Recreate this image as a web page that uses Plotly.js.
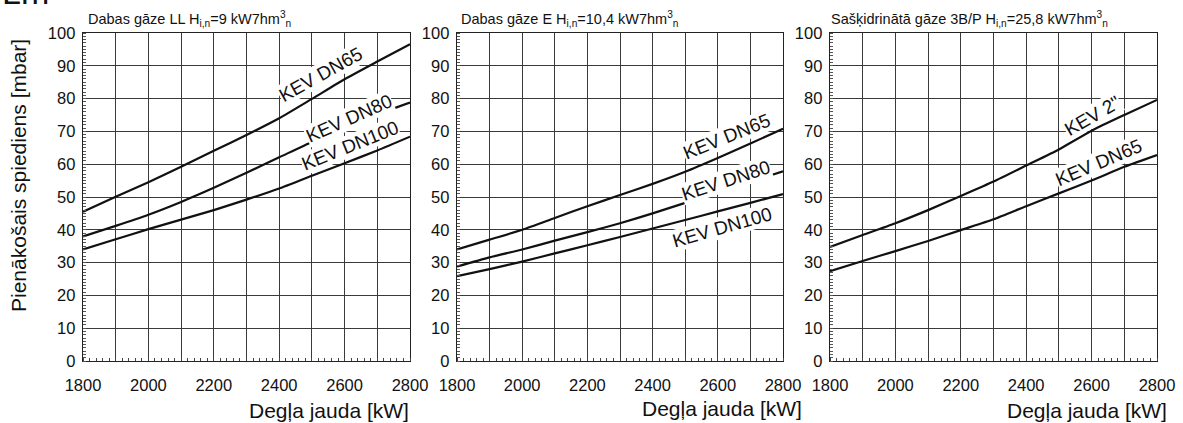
<!DOCTYPE html>
<html>
<head>
<meta charset="utf-8">
<script src="https://cdn.plot.ly/plotly-3.0.1.min.js"></script>
<style>html,body{margin:0;padding:0;background:#fff;}#chart{width:1183px;height:423px;}</style>
</head>
<body>
<div id="chart"></div>
<script>
// ---- data ----
const burnerPower = [1800, 1900, 2000, 2100, 2200, 2300, 2400, 2500, 2600, 2700, 2800];

// Panel 1: Dabas gāze LL
const llDN65  = [45.5, 50.1, 54.5, 59.2, 64.1, 68.9, 74.0, 79.9, 85.9, 91.3, 96.6];
const llDN80  = [38.0, 41.2, 44.6, 48.5, 52.8, 57.4, 62.1, 66.8, 71.1, 75.2, 78.8];
const llDN100 = [34.0, 37.1, 40.2, 43.1, 46.0, 49.2, 52.6, 56.5, 60.3, 64.2, 68.4];

// Panel 2: Dabas gāze E
const eDN65  = [34.0, 37.0, 40.0, 43.6, 47.2, 50.6, 54.0, 57.7, 61.9, 66.3, 70.8];
const eDN80  = [28.8, 31.6, 34.0, 36.7, 39.3, 42.0, 45.0, 48.2, 51.4, 54.6, 57.8];
const eDN100 = [25.9, 28.0, 30.3, 32.8, 35.3, 37.8, 40.4, 43.0, 45.6, 48.2, 50.9];

// Panel 3: Sašķidrinātā gāze 3B/P
const lpgKEV2   = [34.8, 38.4, 42.0, 46.0, 50.3, 54.7, 59.6, 64.5, 70.2, 75.0, 79.6];
const lpgDN65   = [27.4, 30.5, 33.5, 36.6, 39.9, 43.2, 47.2, 51.1, 55.0, 59.2, 62.8];

const xTickVals = [1800, 1900, 2000, 2100, 2200, 2300, 2400, 2500, 2600, 2700, 2800];
const xTickText = ['1800', ' ', '2000', ' ', '2200', ' ', '2400', ' ', '2600', ' ', '2800'];
const yTickVals = [0, 10, 20, 30, 40, 50, 60, 70, 80, 90, 100];

const panelTitles = [
  'Dabas gāze LL H<sub>i,n</sub>=9 kW7hm<sup>3</sup><sub>n</sub>',
  'Dabas gāze E H<sub>i,n</sub>=10,4 kW7hm<sup>3</sup><sub>n</sub>',
  'Sašķidrinātā gāze 3B/P H<sub>i,n</sub>=25,8 kW7hm<sup>3</sup><sub>n</sub>'
];
const xTitle = 'Degļa jauda [kW]';
const yTitle = 'Pienākošais spiediens [mbar]';

// ---- chart ----
const FONT = 'Liberation Sans, Arial, sans-serif';
const W = 1183;

function tr(y, ax, name) {
  return {x: burnerPower, y: y, xaxis: 'x' + ax, yaxis: 'y' + ax, mode: 'lines',
          line: {color: '#111', width: 2.2, shape: 'spline', smoothing: 0.6},
          name: name, showlegend: false, hoverinfo: 'x+y'};
}
const data = [
  tr(llDN65, '', 'KEV DN65'), tr(llDN80, '', 'KEV DN80'), tr(llDN100, '', 'KEV DN100'),
  tr(eDN65, '2', 'KEV DN65'), tr(eDN80, '2', 'KEV DN80'), tr(eDN100, '2', 'KEV DN100'),
  tr(lpgKEV2, '3', 'KEV 2"'), tr(lpgDN65, '3', 'KEV DN65')
];

const domains = [[83 / W, 410 / W], [457 / W, 783 / W], [830 / W, 1157 / W]];

function xa(dom, anchor) {
  return {
    domain: dom, anchor: anchor, range: [1800, 2800],
    tickmode: 'array', tickvals: xTickVals, ticktext: xTickText,
    ticks: '', showgrid: true, gridcolor: '#3a3a3a', gridwidth: 1,
    showline: true, mirror: true, linecolor: '#222', linewidth: 1.3,
    zeroline: false, ticklabelstandoff: 9,
    tickfont: {family: FONT, size: 16.5, color: '#111'},
    minor: {tickmode: 'linear', tick0: 1800, dtick: 20, ticks: 'inside', ticklen: 3,
            tickcolor: '#444', tickwidth: 1, showgrid: false}
  };
}
function ya(anchor) {
  return {
    domain: [0, 1], anchor: anchor, range: [0, 100],
    tickmode: 'array', tickvals: yTickVals,
    ticks: '', showgrid: true, gridcolor: '#3a3a3a', gridwidth: 1,
    showline: true, mirror: true, linecolor: '#222', linewidth: 1.3,
    zeroline: false, ticklabelstandoff: 3,
    tickfont: {family: FONT, size: 16.5, color: '#111'},
    minor: {tickmode: 'linear', tick0: 0, dtick: 1, ticks: 'inside', ticklen: 3,
            tickcolor: '#555', tickwidth: 1, showgrid: false}
  };
}

function curveLabel(text, xr, yr, x, y, angle) {
  return {text: text, xref: xr, yref: yr, x: x, y: y, showarrow: false,
          textangle: angle, bgcolor: '#fff', borderpad: 0,
          font: {family: FONT, size: 19, color: '#111'}};
}

const plotTop = 33, plotBottom = 361, plotH = plotBottom - plotTop;
const py = p => (plotBottom - p) / plotH;
const titleFont = {family: FONT, size: 14.5, color: '#111'};

const annotations = [
  // panel titles
  {text: panelTitles[0], xref: 'paper', yref: 'paper', x: 86 / W, y: py(31), xanchor: 'left', yanchor: 'bottom', showarrow: false, font: titleFont},
  {text: panelTitles[1], xref: 'paper', yref: 'paper', x: 459 / W, y: py(31), xanchor: 'left', yanchor: 'bottom', showarrow: false, font: titleFont},
  {text: panelTitles[2], xref: 'paper', yref: 'paper', x: 829 / W, y: py(31), xanchor: 'left', yanchor: 'bottom', showarrow: false, font: titleFont},
  // x titles
  {text: xTitle, xref: 'paper', yref: 'paper', x: 411 / W, y: py(410), xanchor: 'right', yanchor: 'middle', showarrow: false, font: {family: FONT, size: 21, color: '#111'}},
  {text: xTitle, xref: 'paper', yref: 'paper', x: 804 / W, y: py(408), xanchor: 'right', yanchor: 'middle', showarrow: false, font: {family: FONT, size: 21, color: '#111'}},
  {text: xTitle, xref: 'paper', yref: 'paper', x: 1169 / W, y: py(410), xanchor: 'right', yanchor: 'middle', showarrow: false, font: {family: FONT, size: 21, color: '#111'}},
  // y title
  {text: yTitle, xref: 'paper', yref: 'paper', x: 18 / W, y: py(176), xanchor: 'center', yanchor: 'middle', textangle: -90, showarrow: false, font: {family: FONT, size: 21, color: '#111'}},
  // cropped heading at the very top-left
  {text: 'Lm', xref: 'paper', yref: 'paper', x: 0, y: py(13), xanchor: 'left', yanchor: 'bottom', showarrow: false, font: {family: FONT, size: 34, color: '#111'}},
  // curve labels
  curveLabel('KEV DN65', 'x', 'y', 2527, 87.2, -29),
  curveLabel('KEV DN80', 'x', 'y', 2613, 74.0, -24),
  curveLabel('KEV DN100', 'x', 'y', 2618, 65.6, -22),
  curveLabel('KEV DN65', 'x2', 'y2', 2628, 68.3, -22),
  curveLabel('KEV DN80', 'x2', 'y2', 2625, 55.0, -18),
  curveLabel('KEV DN100', 'x2', 'y2', 2612, 40.6, -16),
  curveLabel('KEV 2"', 'x3', 'y3', 2604, 74.9, -30),
  curveLabel('KEV DN65', 'x3', 'y3', 2622, 60.4, -23)
];

const layout = {
  width: 1183, height: 423,
  margin: {l: 0, r: 0, t: plotTop, b: 423 - plotBottom, pad: 0},
  paper_bgcolor: '#fff', plot_bgcolor: '#fff',
  font: {family: FONT, color: '#111'},
  showlegend: false,
  xaxis: xa(domains[0], 'y'), yaxis: ya('x'),
  xaxis2: xa(domains[1], 'y2'), yaxis2: ya('x2'),
  xaxis3: xa(domains[2], 'y3'), yaxis3: ya('x3'),
  annotations: annotations
};

Plotly.newPlot('chart', data, layout, {displayModeBar: false, staticPlot: true});
</script>
</body>
</html>
